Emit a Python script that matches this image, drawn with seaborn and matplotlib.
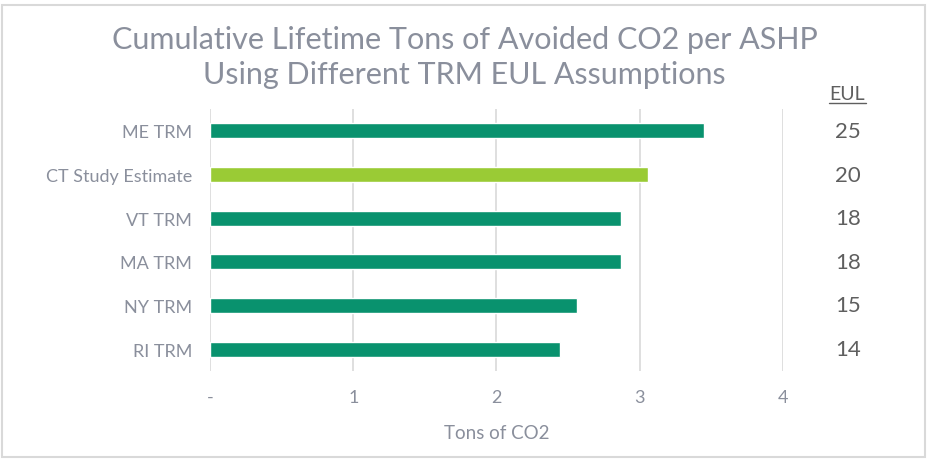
import matplotlib
matplotlib.use("Agg")
import matplotlib.pyplot as plt
import matplotlib.transforms as mtransforms
import seaborn as sns
import pandas as pd
from matplotlib.patches import Rectangle

categories = ["ME TRM", "CT Study Estimate", "VT TRM", "MA TRM", "NY TRM", "RI TRM"]
tons = [3.45, 3.06, 2.87, 2.87, 2.56, 2.44]
eul = [25, 20, 18, 18, 15, 14]
bar_colors = ["#09926E", "#9ACB35", "#09926E", "#09926E", "#09926E", "#09926E"]
xticks = [0, 1, 2, 3, 4]
xticklabels = ["-", "1", "2", "3", "4"]

sns.set_theme(style="white")
plt.rcParams['font.family'] = ['Lato', 'DejaVu Sans']

df = pd.DataFrame({"cat": categories, "tons": tons})

fig = plt.figure(figsize=(9.29, 4.64), dpi=100)
ax = fig.add_axes([210/929, 1-372/464, (783-210)/929, (372-110)/464])

sns.barplot(data=df, x="tons", y="cat", hue="cat", palette=bar_colors,
            width=0.34, legend=False, ax=ax, order=categories, saturation=1)

ax.set_xlim(0, 4)
ax.set_ylim(5.5, -0.5)
ax.set_xticks(xticks)
ax.set_xticklabels(xticklabels)
for x in xticks:
    ax.axvline(x, color="#d9d9d9", lw=1.2, zorder=0)
for s in ax.spines.values():
    s.set_visible(False)
ax.tick_params(axis="both", length=0, labelsize=13, labelcolor="#8a8f9c")
ax.tick_params(axis="y", pad=13)
ax.tick_params(axis="x", pad=13)
ax.set_ylabel("")
ax.set_xlabel("Tons of CO2", fontsize=13.5, color="#8a8f9c", labelpad=14)

trans = mtransforms.blended_transform_factory(fig.transFigure, ax.transData)
for i, v in enumerate(eul):
    ax.text(848/929, i, str(v), transform=trans, fontsize=16,
            color="#5f5f5f", ha="center", va="center")
fig.text(847/929, 1-95/464, "EUL", fontsize=14, color="#5f5f5f",
         ha="center", va="center")
fig.add_artist(plt.Line2D([829/929, 866/929], [1-104/464, 1-104/464],
                          color="#5f5f5f", lw=1, transform=fig.transFigure))

fig.text(0.5, 1-40/464, "Cumulative Lifetime Tons of Avoided CO2 per ASHP",
         fontsize=22, color="#8a8f9c", ha="center", va="center")
fig.text(0.5, 1-75/464, "Using Different TRM EUL Assumptions",
         fontsize=22, color="#8a8f9c", ha="center", va="center")

fig.add_artist(Rectangle((2/929, 6/464), 923/929, 452/464, transform=fig.transFigure,
                         fill=False, edgecolor="#d9d9d9", lw=1.5))

fig.savefig("out.png", dpi=100)
